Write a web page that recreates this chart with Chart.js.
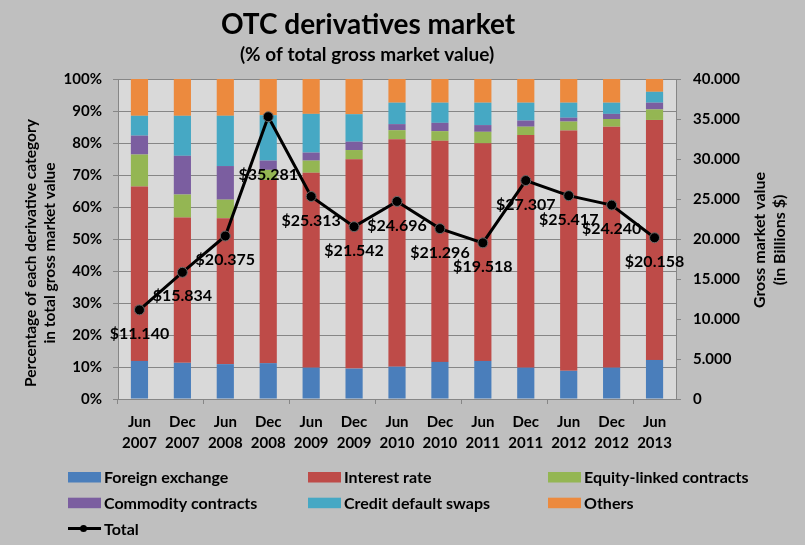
<!DOCTYPE html>
<html>
<head>
<meta charset="utf-8">
<title>OTC derivatives market</title>
<script src="https://cdn.jsdelivr.net/npm/chart.js@4.4.0/dist/chart.umd.min.js"></script>
<style>
  html, body { margin: 0; padding: 0; background: #bfbfbf; }
  #wrap { width: 805px; height: 545px; }
</style>
</head>
<body>
<div id="wrap"><canvas id="otcChart" width="805" height="545"></canvas></div>
<script>
// --- data ---
const periods = [
  ['Jun', '2007'], ['Dec', '2007'], ['Jun', '2008'], ['Dec', '2008'], ['Jun', '2009'],
  ['Dec', '2009'], ['Jun', '2010'], ['Dec', '2010'], ['Jun', '2011'], ['Dec', '2011'],
  ['Jun', '2012'], ['Dec', '2012'], ['Jun', '2013']
];
// share of total gross market value (%)
const foreignExchange = [11.9, 11.3, 10.9, 11.2, 9.8, 9.5, 10.1, 11.6, 11.9, 9.8, 8.8, 9.8, 12.2];
const interestRate    = [54.5, 45.4, 45.6, 57.2, 60.9, 65.4, 71.1, 69.1, 68.0, 72.7, 75.1, 75.3, 75.0];
const equityLinked    = [10.0, 7.2, 5.8, 3.2, 3.8, 2.9, 2.8, 3.0, 3.6, 2.6, 2.8, 2.4, 3.3];
const commodity       = [5.9, 12.1, 10.5, 2.9, 2.5, 2.6, 1.9, 2.6, 2.1, 1.9, 1.2, 1.6, 2.1];
const creditDefault   = [6.2, 12.5, 15.7, 14.2, 12.1, 8.6, 6.7, 6.3, 7.0, 5.6, 4.7, 3.5, 3.4];
const others          = [11.5, 11.5, 11.5, 11.3, 10.9, 11.0, 7.4, 7.4, 7.4, 7.4, 7.4, 7.4, 4.0];
// gross market value (billions $)
const totalValue = [11140, 15834, 20375, 35281, 25313, 21542, 24696, 21296, 19518, 27307, 25417, 24240, 20158];

const pctTicks = [0, 10, 20, 30, 40, 50, 60, 70, 80, 90, 100];
const valueTicks = [0, 5000, 10000, 15000, 20000, 25000, 30000, 35000, 40000];

const FONT = 'Lato, "Open Sans", "DejaVu Sans", sans-serif';
const GRID = '#868686';

// thousands separator as in the original ("40.000")
const dotThousands = (v) => String(v).replace(/\B(?=(\d{3})+(?!\d))/g, '.');

// plot area background
const plotBackground = {
  id: 'plotBackground',
  beforeDraw(chart) {
    const { ctx, chartArea: a } = chart;
    ctx.save();
    ctx.fillStyle = '#bfbfbf';
    ctx.fillRect(0, 0, chart.width, chart.height);
    ctx.fillStyle = '#d9d9d9';
    ctx.fillRect(a.left, a.top, a.right - a.left, a.bottom - a.top);
    ctx.restore();
  }
};

// titles, axis titles, value labels and legend
const decorations = {
  id: 'decorations',
  afterDraw(chart) {
    const { ctx } = chart;
    ctx.save();
    ctx.fillStyle = '#000';
    ctx.textAlign = 'center';
    ctx.textBaseline = 'middle';

    // main title
    ctx.font = `bold 28px ${FONT}`;
    ctx.fillText('OTC derivatives market', 368, 25);
    ctx.font = `bold 19px ${FONT}`;
    ctx.fillText('(% of total gross market value)', 367, 55);

    // axis titles (both read bottom-to-top)
    ctx.font = `bold 15.5px ${FONT}`;
    const vText = (lines, x0, step, y) => {
      ctx.save();
      ctx.translate(x0, y);
      ctx.rotate(-Math.PI / 2);
      lines.forEach((t, i) => ctx.fillText(t, 0, i * step));
      ctx.restore();
    };
    vText(['Percentage of each derivative category', 'in total gross market value'], 31, 19, 253);
    ctx.font = `bold 16px ${FONT}`;
    vText(['Gross market value', '(in Billions $)'], 760, 20, 240);

    // value labels under the Total line
    const lineIdx = chart.data.datasets.findIndex(d => d.type === 'line');
    const meta = chart.getDatasetMeta(lineIdx);
    ctx.font = `bold 16px ${FONT}`;
    meta.data.forEach((pt, i) => {
      const dy = i === 3 ? 58 : 24;
      ctx.fillText('$' + dotThousands(totalValue[i]), pt.x, pt.y + dy);
    });

    // legend, three columns
    ctx.font = `bold 16px ${FONT}`;
    ctx.textAlign = 'left';
    chart.data.datasets.forEach((ds, i) => {
      const x = 68 + (i % 3) * 240;
      const y = 477 + Math.floor(i / 3) * 25.7;
      if (ds.type === 'line') {
        ctx.strokeStyle = '#000';
        ctx.lineWidth = 3;
        ctx.beginPath();
        ctx.moveTo(x, y);
        ctx.lineTo(x + 33, y);
        ctx.stroke();
        ctx.beginPath();
        ctx.arc(x + 15.5, y, 3.5, 0, Math.PI * 2);
        ctx.fill();
      } else {
        ctx.fillStyle = ds.backgroundColor;
        ctx.fillRect(x, y - 5, 33, 10.5);
        ctx.fillStyle = '#000';
      }
      ctx.fillText(ds.label, x + 36, y + 1);
    });
    ctx.restore();
  }
};

const barSet = (label, data, color) => ({
  type: 'bar',
  label,
  data,
  backgroundColor: color,
  borderWidth: 0,
  yAxisID: 'y',
  order: 2,
  barPercentage: 0.4,
  categoryPercentage: 1.0
});

new Chart(document.getElementById('otcChart'), {
  data: {
    labels: periods,
    datasets: [
      barSet('Foreign exchange', foreignExchange, '#4a7ebb'),
      barSet('Interest rate', interestRate, '#be4b48'),
      barSet('Equity-linked contracts', equityLinked, '#94b653'),
      barSet('Commodity contracts', commodity, '#7b5ea0'),
      barSet('Credit default swaps', creditDefault, '#46a8c4'),
      barSet('Others', others, '#ec8a3e'),
      {
        type: 'line',
        label: 'Total',
        data: totalValue,
        yAxisID: 'y1',
        order: 1,
        borderColor: '#000',
        borderWidth: 3,
        tension: 0,
        pointRadius: 5,
        pointBackgroundColor: '#000',
        pointBorderColor: '#6a6a6a',
        pointBorderWidth: 1
      }
    ]
  },
  options: {
    responsive: false,
    animation: false,
    layout: { padding: { top: 79, bottom: 86, left: 0, right: 0 } },
    plugins: {
      legend: { display: false },
      title: { display: false },
      tooltip: { enabled: false }
    },
    scales: {
      x: {
        stacked: true,
        offset: true,
        afterFit: (s) => { s.height = 60; },
        grid: {
          offset: true,
          drawOnChartArea: false,
          drawTicks: true,
          tickLength: 5,
          color: (c) => (c.index % 2 === 0 ? GRID : 'rgba(0,0,0,0)')
        },
        border: { color: GRID },
        ticks: {
          color: '#000',
          padding: 8,
          maxRotation: 0,
          autoSkip: false,
          font: { family: FONT, size: 15, weight: 'bold', lineHeight: 1.4 }
        }
      },
      y: {
        stacked: true,
        position: 'left',
        min: 0,
        max: 100,
        afterFit: (s) => { s.width = 118; },
        afterBuildTicks: (s) => { s.ticks = pctTicks.map(v => ({ value: v })); },
        grid: { color: GRID, tickLength: 5 },
        border: { color: GRID },
        ticks: {
          color: '#000',
          padding: 11,
          callback: (v) => v + '%',
          font: { family: FONT, size: 15, weight: 'bold' }
        }
      },
      y1: {
        position: 'right',
        min: 0,
        max: 40000,
        afterFit: (s) => { s.width = 129; },
        afterBuildTicks: (s) => { s.ticks = valueTicks.map(v => ({ value: v })); },
        grid: { drawOnChartArea: false, color: GRID, tickLength: 5 },
        border: { color: GRID },
        ticks: {
          color: '#000',
          padding: 12,
          callback: (v) => dotThousands(v),
          font: { family: FONT, size: 15, weight: 'bold' }
        }
      }
    }
  },
  plugins: [plotBackground, decorations]
});
</script>
</body>
</html>
